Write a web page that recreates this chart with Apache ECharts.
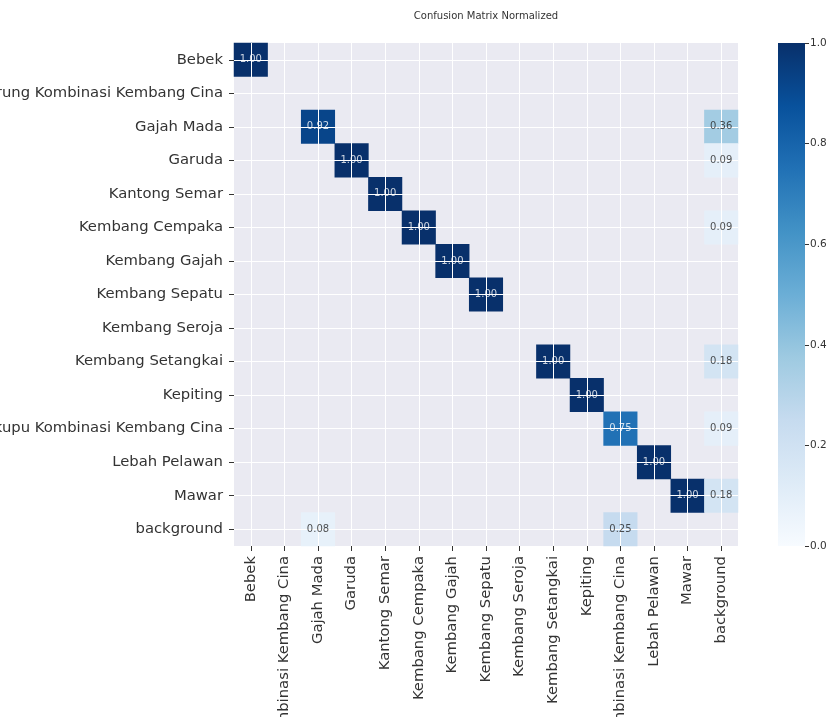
<!DOCTYPE html>
<html>
<head>
<meta charset="utf-8">
<script src="https://cdn.jsdelivr.net/npm/echarts@6/dist/echarts.min.js"></script>
<style>
  html, body { margin: 0; padding: 0; background: #ffffff; }
  #chart { width: 835px; height: 717px; }
</style>
</head>
<body>
<div id="chart"></div>
<script>
// Class names (rows = predicted, columns = true)
const classes = [
  'Bebek',
  'Burung Kombinasi Kembang Cina',
  'Gajah Mada',
  'Garuda',
  'Kantong Semar',
  'Kembang Cempaka',
  'Kembang Gajah',
  'Kembang Sepatu',
  'Kembang Seroja',
  'Kembang Setangkai',
  'Kepiting',
  'Kupu-kupu Kombinasi Kembang Cina',
  'Lebah Pelawan',
  'Mawar',
  'background'
];

// Non-empty cells of the normalized matrix: [column, row, value]
const cells = [
  [0, 0, 1.00],
  [2, 2, 0.92], [14, 2, 0.36],
  [3, 3, 1.00], [14, 3, 0.09],
  [4, 4, 1.00],
  [5, 5, 1.00], [14, 5, 0.09],
  [6, 6, 1.00],
  [7, 7, 1.00],
  [9, 9, 1.00], [14, 9, 0.18],
  [10, 10, 1.00],
  [11, 11, 0.75], [14, 11, 0.09],
  [12, 12, 1.00],
  [13, 13, 1.00], [14, 13, 0.18],
  [2, 14, 0.08], [11, 14, 0.25]
];

// Colorbar ticks
const colorbarTicks = [0.0, 0.2, 0.4, 0.6, 0.8, 1.0];

// "Blues" colormap, light to dark
const blues = ['#f7fbff', '#deebf7', '#c6dbef', '#9ecae1', '#6baed6',
               '#4292c6', '#2171b5', '#08519c', '#08306b'];

const FONT = 'DejaVu Sans';
const TEXT = '#333333';

const heatData = cells.map(([x, y, v]) => [x, y, v]);

const chart = echarts.init(document.getElementById('chart'), null, { renderer: 'canvas' });

chart.setOption({
  backgroundColor: '#ffffff',
  animation: false,
  textStyle: { fontFamily: FONT },
  title: {
    text: 'Confusion Matrix Normalized',
    left: 481,
    top: 6,
    textAlign: 'center',
    textStyle: { fontSize: 10, fontWeight: 'normal', color: TEXT, fontFamily: FONT }
  },
  grid: [
    { left: 234, top: 43, width: 504, height: 503, show: true,
      backgroundColor: '#eaeaf2', borderWidth: 0,
      containLabel: false, outerBoundsMode: 'none' },
    { left: 778, top: 43, width: 27, height: 503,
      containLabel: false, outerBoundsMode: 'none' }
  ],
  xAxis: [
    {
      type: 'category', gridIndex: 0, data: classes, z: 5,
      axisLine: { show: false },
      axisTick: { show: true, alignWithLabel: true, length: 5, inside: false,
                  lineStyle: { color: TEXT } },
      axisLabel: { rotate: 90, fontSize: 14.8, color: TEXT, margin: 10,
                   interval: 0, fontFamily: FONT },
      splitLine: { show: true, alignWithLabel: true,
                   lineStyle: { color: '#ffffff', width: 1 } }
    },
    {
      type: 'category', gridIndex: 1, data: ['scale'],
      axisLine: { show: false }, axisTick: { show: false },
      axisLabel: { show: false }, splitLine: { show: false }
    }
  ],
  yAxis: [
    {
      type: 'category', gridIndex: 0, data: classes, inverse: true, z: 5,
      axisLine: { show: false },
      axisTick: { show: true, alignWithLabel: true, length: 5,
                  lineStyle: { color: TEXT } },
      axisLabel: { fontSize: 14.8, color: TEXT, margin: 11, interval: 0,
                   fontFamily: FONT },
      splitLine: { show: true, alignWithLabel: true,
                   lineStyle: { color: '#ffffff', width: 1 } }
    },
    {
      type: 'value', gridIndex: 1, min: 0, max: 1, interval: 0.2,
      position: 'right',
      axisLine: { show: false },
      axisTick: { show: true, length: 4, lineStyle: { color: TEXT } },
      axisLabel: { fontSize: 10.5, color: TEXT, margin: 5, fontFamily: FONT,
                   formatter: v => colorbarTicks.includes(+v.toFixed(1)) ? v.toFixed(1) : '' },
      splitLine: { show: false }
    }
  ],
  visualMap: {
    show: false,
    type: 'continuous',
    min: 0, max: 1,
    dimension: 2,
    seriesIndex: 0,
    inRange: { color: blues }
  },
  series: [
    {
      type: 'heatmap',
      xAxisIndex: 0, yAxisIndex: 0,
      z: 2,
      data: heatData,
      label: { show: false },
      itemStyle: { borderWidth: 0 },
      emphasis: { disabled: true }
    },
    {
      // cell annotations, drawn above the grid lines
      type: 'scatter',
      xAxisIndex: 0, yAxisIndex: 0,
      z: 10,
      data: heatData,
      symbolSize: 1,
      itemStyle: { color: 'rgba(0,0,0,0)' },
      silent: true,
      label: {
        show: true, position: 'inside', fontSize: 10, fontFamily: FONT,
        textBorderWidth: 0,
        formatter: p => {
          const v = p.value[2];
          return (v > 0.5 ? '{w|' : '{d|') + v.toFixed(2) + '}';
        },
        rich: {
          w: { color: '#ffffff', fontSize: 10, fontFamily: FONT },
          d: { color: '#262626', fontSize: 10, fontFamily: FONT }
        }
      },
      emphasis: { disabled: true }
    },
    {
      // colorbar strip
      type: 'custom',
      xAxisIndex: 1, yAxisIndex: 1,
      data: [[0, 0]],
      silent: true,
      renderItem: (params, api) => {
        const top = api.coord([0, 1]);
        const bottom = api.coord([0, 0]);
        const w = api.size([1, 0])[0];
        const stops = blues.map((c, i) => ({ offset: 1 - i / (blues.length - 1), color: c }));
        stops.reverse();
        return {
          type: 'rect',
          shape: { x: top[0] - w / 2, y: top[1], width: w, height: bottom[1] - top[1] },
          style: { fill: new echarts.graphic.LinearGradient(0, 0, 0, 1, stops) }
        };
      }
    }
  ]
});
</script>
</body>
</html>
